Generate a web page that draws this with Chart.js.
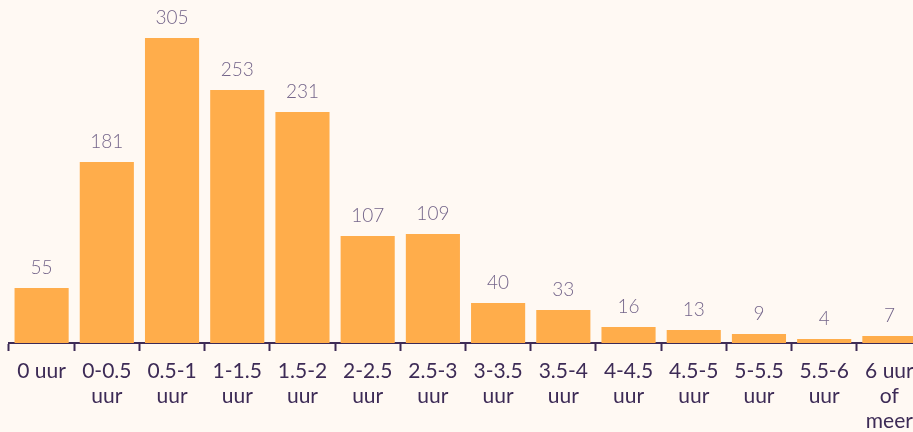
<!DOCTYPE html>
<html>
<head>
<meta charset="utf-8">
<script src="https://cdn.jsdelivr.net/npm/chart.js@4.4.1/dist/chart.umd.min.js"></script>
<style>
  html, body { margin: 0; padding: 0; background: #fff9f3; overflow: hidden; }
  #wrap { width: 922px; height: 432px; position: relative; }
</style>
</head>
<body>
<div id="wrap"><canvas id="sleepChart"></canvas></div>
<script>
// --- DATA ---
const categories = [
    ['0 uur'], ['0-0.5', 'uur'], ['0.5-1', 'uur'], ['1-1.5', 'uur'], ['1.5-2', 'uur'],
    ['2-2.5', 'uur'], ['2.5-3', 'uur'], ['3-3.5', 'uur'], ['3.5-4', 'uur'], ['4-4.5', 'uur'],
    ['4.5-5', 'uur'], ['5-5.5', 'uur'], ['5.5-6', 'uur'], ['6 uur', 'of', 'meer']
];
const counts = [55, 181, 305, 253, 231, 107, 109, 40, 33, 16, 13, 9, 4, 7];

const AXIS_COLOR = '#3d2b56';
const LABEL_COLOR = '#74658a';

// value labels above the bars
const valueLabels = {
    id: 'valueLabels',
    afterDatasetsDraw(chart) {
        const c = chart.ctx;
        const meta = chart.getDatasetMeta(0);
        c.save();
        c.font = '300 19px Lato';
        c.fillStyle = LABEL_COLOR;
        c.textAlign = 'center';
        c.textBaseline = 'alphabetic';
        meta.data.forEach((bar, i) => {
            c.fillText(String(counts[i]), bar.x, bar.y - 14);
        });
        c.restore();
    }
};

const ctx = document.getElementById('sleepChart').getContext('2d');
const chart = new Chart(ctx, {
    type: 'bar',
    data: {
        labels: categories,
        datasets: [{
            data: counts,
            backgroundColor: '#ffad4b',
            borderWidth: 0,
            barPercentage: 0.83,
            categoryPercentage: 1
        }]
    },
    options: {
        responsive: true,
        maintainAspectRatio: false,
        animation: false,
        layout: { padding: { left: 9, right: 0, top: 0, bottom: 0 } },
        plugins: { legend: { display: false }, tooltip: { enabled: false } },
        scales: {
            x: {
                grid: {
                    offset: true,
                    drawOnChartArea: false,
                    drawTicks: true,
                    tickLength: 8,
                    tickWidth: 2,
                    color: AXIS_COLOR
                },
                border: { color: AXIS_COLOR, width: 2 },
                ticks: {
                    color: AXIS_COLOR,
                    font: { family: 'Lato', size: 21, lineHeight: '25px' },
                    padding: 8,
                    maxRotation: 0,
                    autoSkip: false
                },
                afterFit(scale) { scale.height = 89; }
            },
            y: {
                display: false,
                min: 0,
                max: 343
            }
        }
    },
    plugins: [valueLabels]
});
</script>
</body>
</html>
